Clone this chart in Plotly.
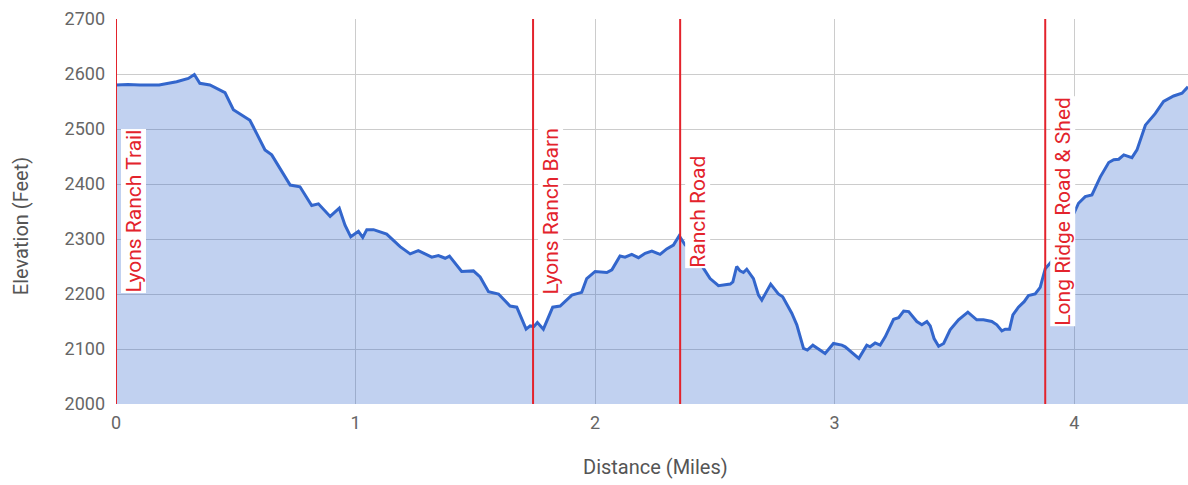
import plotly.graph_objects as go

distance = [0.000, 0.05, 0.10, 0.18, 0.253, 0.302, 0.327, 0.350, 0.392, 0.420, 0.455, 0.490, 0.559,
            0.622, 0.650, 0.727, 0.768, 0.817, 0.845, 0.894, 0.932, 0.956, 0.980, 1.012, 1.030, 1.047,
            1.075, 1.130, 1.151, 1.186, 1.228, 1.262, 1.318, 1.346, 1.374, 1.392, 1.443, 1.492, 1.520,
            1.555, 1.597, 1.645, 1.673, 1.712, 1.729, 1.745, 1.759, 1.784, 1.823, 1.854, 1.903, 1.944,
            1.965, 2.000, 2.049, 2.070, 2.104, 2.125, 2.153, 2.181, 2.209, 2.237, 2.271, 2.299, 2.327,
            2.351, 2.376, 2.397, 2.425, 2.452, 2.480, 2.515, 2.564, 2.575, 2.591, 2.605, 2.619, 2.633,
            2.661, 2.682, 2.696, 2.733, 2.765, 2.783, 2.821, 2.842, 2.870, 2.886, 2.909, 2.939, 2.960,
            2.995, 3.030, 3.044, 3.070, 3.101, 3.134, 3.148, 3.169, 3.190, 3.211, 3.246, 3.267, 3.288,
            3.309, 3.343, 3.364, 3.385, 3.399, 3.415, 3.434, 3.455, 3.482, 3.517, 3.556, 3.593, 3.621,
            3.656, 3.677, 3.698, 3.712, 3.730, 3.744, 3.767, 3.791, 3.809, 3.837, 3.858, 3.879, 3.907,
            3.950, 3.990, 4.018, 4.046, 4.074, 4.109, 4.144, 4.165, 4.186, 4.207, 4.241, 4.262, 4.297,
            4.338, 4.373, 4.415, 4.450, 4.475]
elevation = [2580, 2581, 2580, 2580, 2586, 2592, 2599, 2583, 2580, 2574, 2566, 2535, 2516,
             2462, 2453, 2398, 2395, 2361, 2364, 2341, 2356, 2325, 2304, 2314, 2303, 2317,
             2317, 2309, 2301, 2286, 2273, 2279, 2267, 2270, 2265, 2269, 2241, 2242, 2231,
             2204, 2200, 2178, 2176, 2136, 2142, 2141, 2148, 2136, 2176, 2178, 2198, 2203,
             2228, 2241, 2239, 2244, 2269, 2267, 2272, 2266, 2274, 2278, 2272, 2282, 2289,
             2306, 2289, 2286, 2268, 2247, 2228, 2215, 2218, 2222, 2250, 2242, 2239, 2245,
             2228, 2198, 2189, 2218, 2200, 2195, 2165, 2144, 2101, 2098, 2107, 2098, 2092,
             2110, 2107, 2104, 2095, 2083, 2107, 2104, 2111, 2107, 2122, 2154, 2157, 2169,
             2168, 2150, 2144, 2150, 2142, 2119, 2105, 2110, 2135, 2153, 2167, 2153, 2153,
             2150, 2144, 2133, 2136, 2136, 2162, 2176, 2186, 2197, 2200, 2212, 2246, 2260,
             2300, 2338, 2365, 2377, 2380, 2413, 2439, 2444, 2445, 2453, 2448, 2462, 2507,
             2528, 2550, 2560, 2565, 2577]

landmark_names = ["Lyons Ranch Trail", "Lyons Ranch Barn", "Ranch Road", "Long Ridge Road & Shed"]
landmark_miles = [0.0, 1.741, 2.355, 3.879]

x_ticks = [0, 1, 2, 3, 4]
y_ticks = [2000, 2100, 2200, 2300, 2400, 2500, 2600, 2700]

x_title = "Distance (Miles)"
y_title = "Elevation (Feet)"

FONT = "Roboto"
RED = "#e3232c"

fig = go.Figure()
fig.add_trace(go.Scatter(
    x=distance, y=elevation, mode="lines",
    line=dict(color="#3366cc", width=3),
    fill="tozeroy", fillcolor="rgba(51,102,204,0.3)",
    hoverinfo="x+y", showlegend=False,
))

for name, m in zip(landmark_names, landmark_miles):
    fig.add_shape(type="line", xref="x", yref="paper", x0=m, x1=m, y0=0, y1=1,
                  line=dict(color=RED, width=2), layer="above")
    fig.add_annotation(x=m, xref="x", y=0.5, yref="paper", text=name, textangle=-90,
                       showarrow=False, xanchor="left", yanchor="middle", xshift=4,
                       font=dict(family=FONT, size=21, color=RED),
                       bgcolor="white", borderpad=0)

# axis titles as annotations for exact placement
fig.add_annotation(x=0.503, xref="paper", y=-0.164, yref="paper", text=x_title,
                   showarrow=False, xanchor="center", yanchor="middle",
                   font=dict(family=FONT, size=20, color="#555555"))
fig.add_annotation(x=-0.0886, xref="paper", y=0.462, yref="paper", text=y_title,
                   textangle=-90, showarrow=False, xanchor="center", yanchor="middle",
                   font=dict(family=FONT, size=20, color="#555555"))

fig.update_layout(
    width=1188, height=485,
    margin=dict(l=116, r=0, t=19, b=81),
    paper_bgcolor="white", plot_bgcolor="white",
    font=dict(family=FONT, color="#666666"),
    xaxis=dict(range=[0, 4.475], tickvals=x_ticks, showgrid=True, gridcolor="#cccccc",
               gridwidth=1, zeroline=False, showline=False, ticks="",
               tickfont=dict(size=18, color="#666666"), ticklabelstandoff=6),
    yaxis=dict(range=[2000, 2700], tickvals=y_ticks, showgrid=True, gridcolor="#cccccc",
               gridwidth=1, zeroline=False, showline=False, ticks="",
               tickfont=dict(size=18, color="#666666"), ticklabelstandoff=10),
)

fig.write_html("out.html", config={"displayModeBar": False},
               post_script="document.body.style.margin='0px';document.body.style.overflow='hidden';")
